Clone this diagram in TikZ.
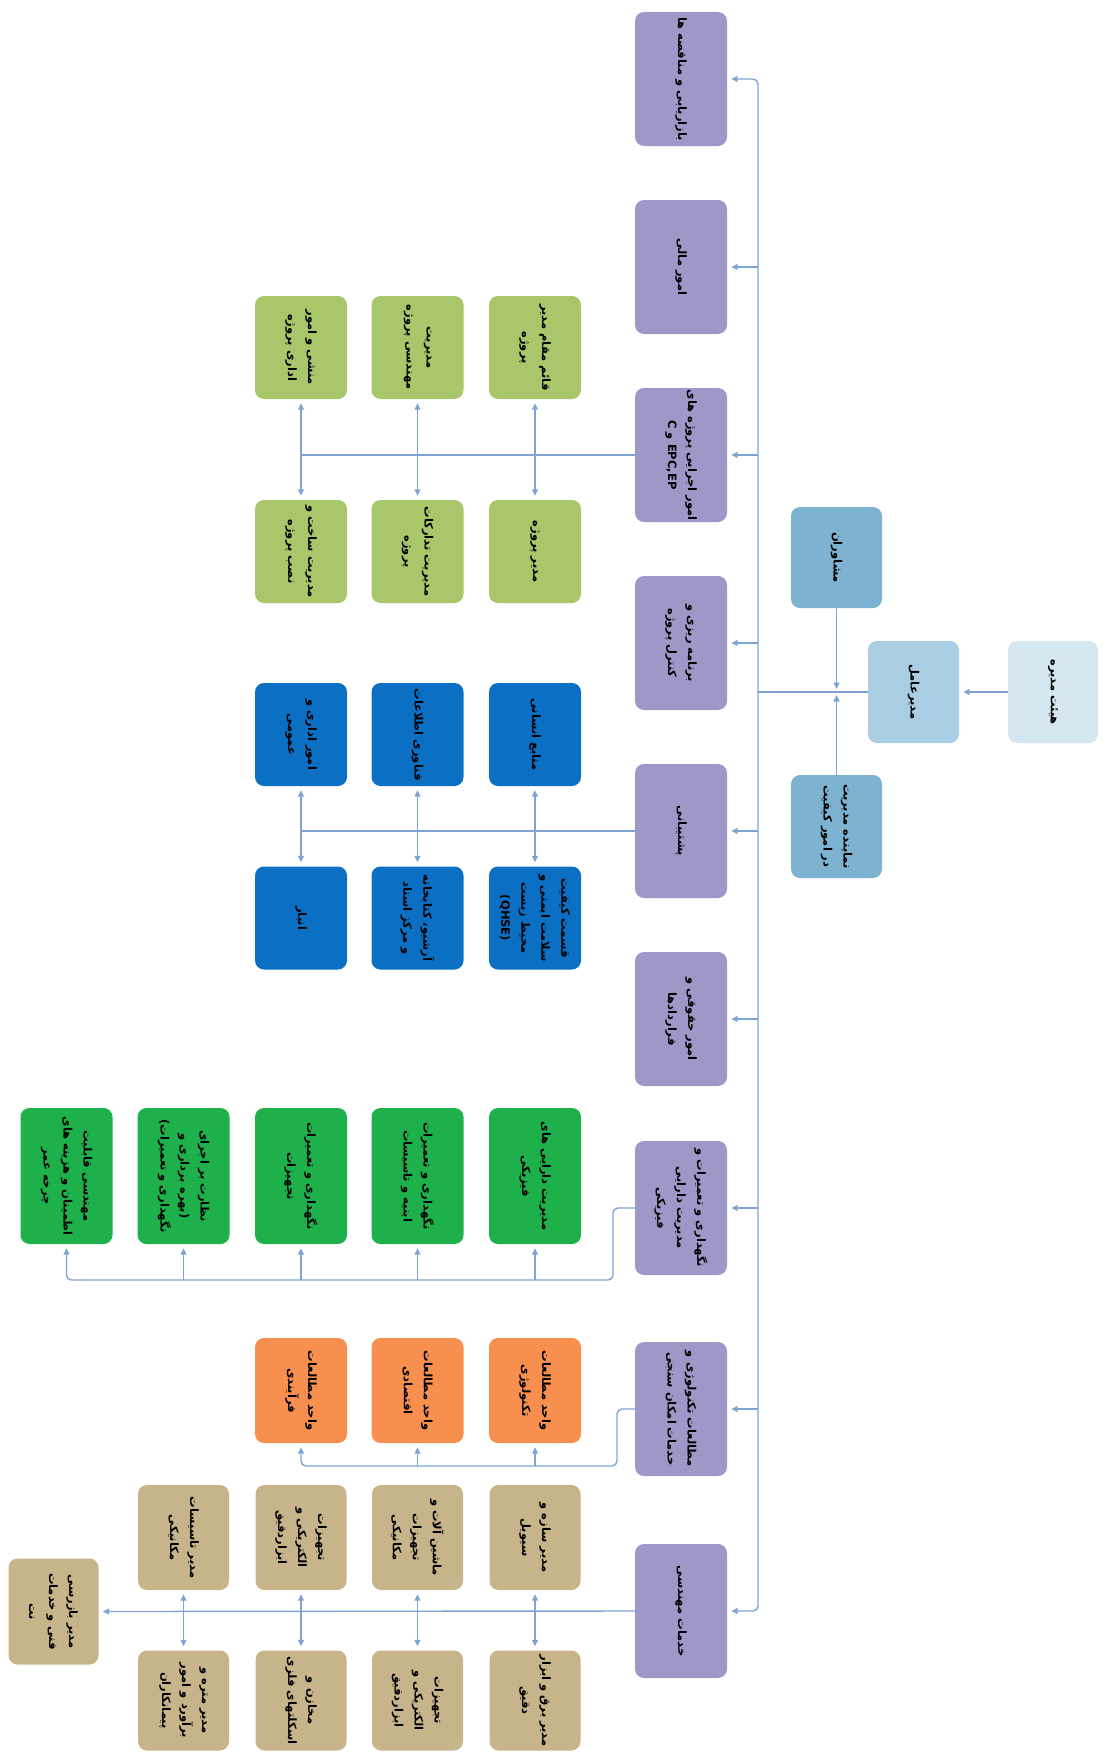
\documentclass[tikz,border=0pt]{standalone}
\usepackage{fontspec}
\newfontfamily\fa[Script=Arabic]{DejaVu Sans}
\TeXXeTstate=1
\usetikzlibrary{arrows.meta}
\definecolor{cPur}{HTML}{9E98C8}
\definecolor{cLg}{HTML}{A8C76A}
\definecolor{cBl}{HTML}{0B6FC4}
\definecolor{cGr}{HTML}{1DB04B}
\definecolor{cOr}{HTML}{F7904F}
\definecolor{cTan}{HTML}{C8B48B}
\definecolor{cBoard}{HTML}{D5E7F0}
\definecolor{cCeo}{HTML}{A9CDE2}
\definecolor{cCons}{HTML}{7DB3D0}
\definecolor{cLine}{HTML}{7FA4D4}
\newcommand\rl[1]{\beginR#1\endR}
\tikzset{
  box/.style={rounded corners=9pt, rotate=-90, align=center, inner sep=1pt, text=black,
    font=\fa\bfseries\fontsize{11.5}{20}\selectfont},
  pur/.style={box, fill=cPur, minimum width=134pt, minimum height=92pt},
  lg/.style={box, fill=cLg, minimum width=103pt, minimum height=92pt},
  bl/.style={box, fill=cBl, minimum width=103pt, minimum height=92pt},
  gr/.style={box, fill=cGr, minimum width=136pt, minimum height=92pt},
  orb/.style={box, fill=cOr, minimum width=105pt, minimum height=92pt},
  tant/.style={box, fill=cTan, minimum width=105pt, minimum height=91pt},
  tanb/.style={box, fill=cTan, minimum width=100pt, minimum height=91pt},
  conn/.style={draw=cLine, line width=1.4pt},
  arr/.style={conn, -{Triangle[length=6.5pt,width=6pt]}, shorten >=4pt},
  darr/.style={conn, {Triangle[length=6.5pt,width=6pt]}-{Triangle[length=6.5pt,width=6pt]}, shorten >=4pt, shorten <=4pt},
}
\begin{document}
\begin{tikzpicture}[x=1pt,y=-1pt]
\useasboundingbox (0,0) rectangle (1105,1753);
% top management
\node[box, fill=cBoard, minimum width=102pt, minimum height=90pt] (board) at (1053,692) {\rl{هیئت مدیره}};
\node[box, fill=cCeo, minimum width=102pt, minimum height=91pt] (ceo) at (913.5,692) {\rl{مدیرعامل}};
\node[box, fill=cCons, minimum width=101pt, minimum height=91pt] (mosh) at (836.5,557.5) {\rl{مشاوران}};
\node[box, fill=cCons, minimum width=103pt, minimum height=91pt] (nam) at (836.5,826.5) {\rl{نماینده مدیریت}\\\rl{در امور کیفیت}};
% departments
\node[pur] (p1) at (681,79) {\rl{بازاریابی و مناقصه ها}};
\node[pur] (p2) at (681,267) {\rl{امور مالی}};
\node[pur] (p3) at (681,455) {\rl{امور اجرایی پروژه های}\\\rl{\beginL EPC,EP\endL{} و C}};
\node[pur] (p4) at (681,643) {\rl{برنامه ریزی و}\\\rl{کنترل پروژه}};
\node[pur] (p5) at (681,831) {\rl{پشتیبانی}};
\node[pur] (p6) at (681,1019) {\rl{امور حقوقی و}\\\rl{قراردادها}};
\node[pur] (p7) at (681,1208) {\rl{نگهداری و تعمیرات و}\\\rl{مدیریت دارایی}\\\rl{فیزیکی}};
\node[pur] (p8) at (681,1409) {\rl{مطالعات تکنولوژی و}\\\rl{خدمات امکان سنجی}};
\node[pur] (p9) at (681,1611) {\rl{خدمات مهندسی}};
% projects
\node[lg] (gt1) at (535,347.5) {\rl{قائم مقام مدیر}\\\rl{پروژه}};
\node[lg] (gt2) at (417.5,347.5) {\rl{مدیریت}\\\rl{مهندسی پروژه}};
\node[lg] (gt3) at (301,347.5) {\rl{منشی و امور}\\\rl{اداری پروژه}};
\node[lg] (gb1) at (535,551.5) {\rl{مدیر پروژه}};
\node[lg] (gb2) at (417.5,551.5) {\rl{مدیریت تدارکات}\\\rl{پروژه}};
\node[lg] (gb3) at (301,551.5) {\rl{مدیریت ساخت و}\\\rl{نصب پروژه}};
% support
\node[bl] (ut1) at (535,734.5) {\rl{منابع انسانی}};
\node[bl] (ut2) at (417.5,734.5) {\rl{فناوری اطلاعات}};
\node[bl] (ut3) at (301,734.5) {\rl{امور اداری و}\\\rl{عمومی}};
\node[bl] (ub1) at (535,918) {\rl{قسمت کیفیت}\\\rl{سلامت ایمنی و}\\\rl{محیط زیست}\\(QHSE)};
\node[bl] (ub2) at (417.5,918) {\rl{آرشیو، کتابخانه}\\\rl{و مرکز اسناد}};
\node[bl] (ub3) at (301,918) {\rl{انبار}};
% maintenance
\node[gr] (k1) at (535,1176) {\rl{مدیریت دارایی های}\\\rl{فیزیکی}};
\node[gr] (k2) at (417.5,1176) {\rl{نگهداری و تعمیرات}\\\rl{ابنیه و تاسیسات}};
\node[gr] (k3) at (301,1176) {\rl{نگهداری و تعمیرات}\\\rl{تجهیزات}};
\node[gr] (k4) at (183.5,1176) {\rl{نظارت بر اجرای}\\\rl{(بهره برداری و}\\\rl{نگهداری و تعمیرات)}};
\node[gr] (k5) at (66.5,1176) {\rl{مهندسی قابلیت}\\\rl{اطمینان و هزینه های}\\\rl{چرخه عمر}};
% studies
\node[orb] (o1) at (535,1390.5) {\rl{واحد مطالعات}\\\rl{تکنولوژی}};
\node[orb] (o2) at (417.5,1390.5) {\rl{واحد مطالعات}\\\rl{اقتصادی}};
\node[orb] (o3) at (301,1390.5) {\rl{واحد مطالعات}\\\rl{فرآیندی}};
% engineering
\node[tant] (ta1) at (535,1537.5) {\rl{مدیر سازه و}\\\rl{سیویل}};
\node[tant] (ta2) at (417.5,1537.5) {\rl{ماشین آلات و}\\\rl{تجهیزات}\\\rl{مکانیکی}};
\node[tant] (ta3) at (301,1537.5) {\rl{تجهیزات}\\\rl{الکتریکی و}\\\rl{ابزاردقیق}};
\node[tant] (ta4) at (183.5,1537.5) {\rl{مدیر تاسیسات}\\\rl{مکانیکی}};
\node[tanb] (tb1) at (535,1700.5) {\rl{مدیر برق و ابزار}\\\rl{دقیق}};
\node[tanb] (tb2) at (417.5,1700.5) {\rl{تجهیزات}\\\rl{الکتریکی و}\\\rl{ابزاردقیق}};
\node[tanb] (tb3) at (301,1700.5) {\rl{مخازن و}\\\rl{اسکلتهای فلزی}};
\node[tanb] (tb4) at (183.5,1700.5) {\rl{مدیر متره و}\\\rl{برآورد و امور}\\\rl{پیمانکاران}};
\node[box, fill=cTan, minimum width=106pt, minimum height=90pt] (insp) at (53.5,1611.5) {\rl{مدیر بازرسی}\\\rl{فنی و خدمات}\\\rl{نت}};
% connectors
\coordinate (trunk) at (758,0);
\draw[darr, rounded corners=5pt] (p1.north) -- (trunk |- p1) -- (trunk |- p9) -- (p9.north);
\foreach \n in {p2,p3,p4,p5,p6,p7,p8} \draw[arr] (trunk |- \n) -- (\n.north);
\draw[conn] (ceo.south) -- (trunk |- ceo);
\draw[arr] (board.south) -- (ceo.north);
\draw[arr, shorten >=3pt] (mosh.east) -- (mosh.east |- ceo);
\draw[arr, shorten >=3pt] (nam.west) -- (nam.west |- ceo);
\draw[conn] (p3.south) -- (p3.south -| gt3);
\foreach \c in {1,2,3} \draw[darr] (gt\c.east) -- (gb\c.west);
\draw[conn] (p5.south) -- (p5.south -| ut3);
\foreach \c in {1,2,3} \draw[darr] (ut\c.east) -- (ub\c.west);
\coordinate (gk) at (613,1280);
\draw[arr, rounded corners=5pt] (p7.south) -| (gk) -- (gk -| k5) -- (k5.east);
\foreach \c in {k1,k2,k3,k4} \draw[arr] (gk -| \c) -- (\c.east);
\coordinate (ok) at (617,1466);
\draw[arr, rounded corners=5pt] (p8.south) -| (ok) -- (ok -| o3) -- (o3.east);
\foreach \c in {o1,o2} \draw[arr] (ok -| \c) -- (\c.east);
\draw[arr] (p9.south) -- (insp.north);
\foreach \c in {1,2,3,4} \draw[darr] (ta\c.east) -- (tb\c.west);
\end{tikzpicture}
\end{document}
